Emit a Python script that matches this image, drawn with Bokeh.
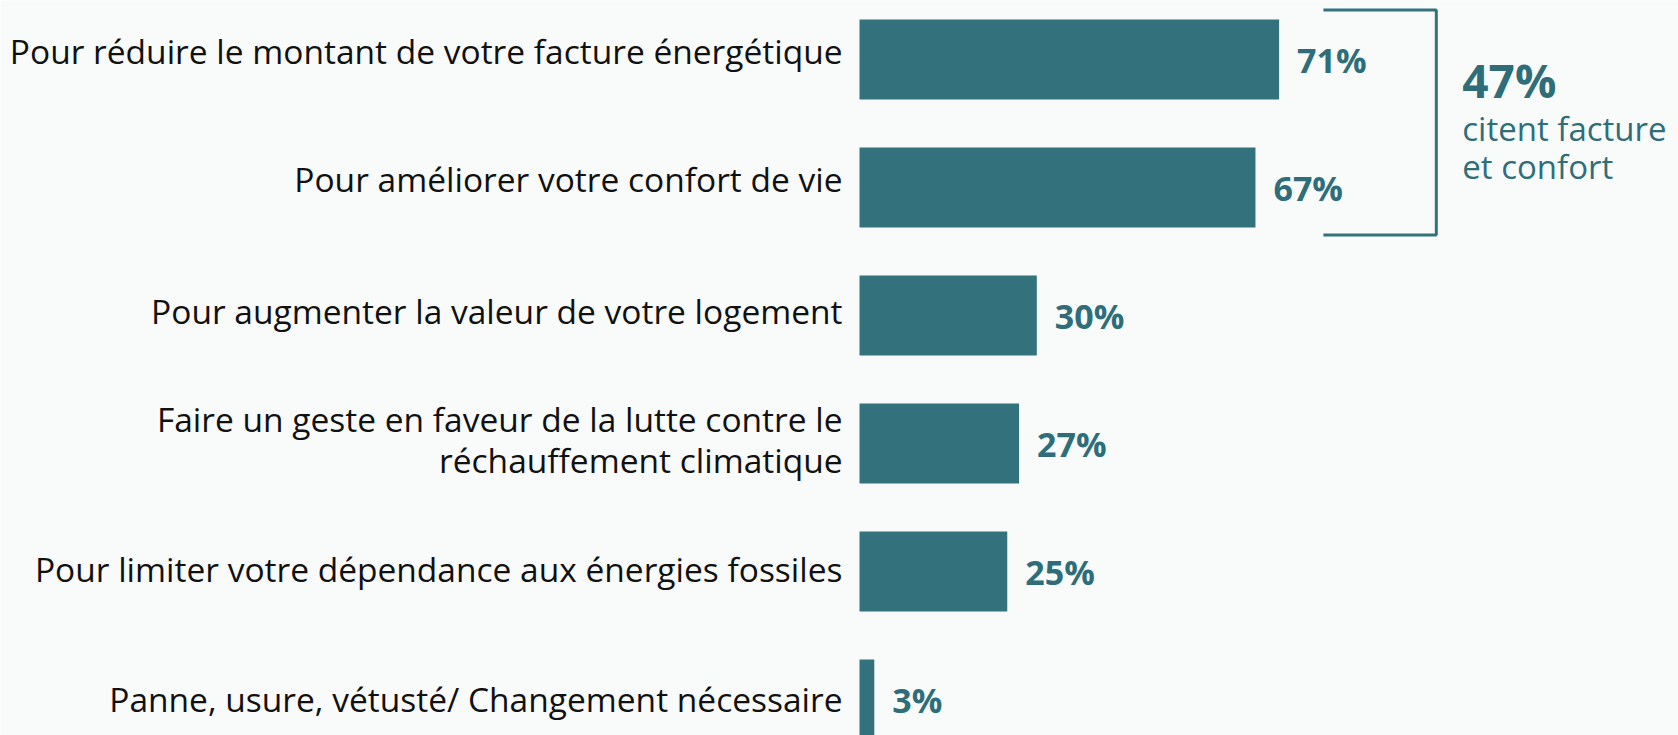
from bokeh.plotting import figure
from bokeh.models import ColumnDataSource, Range1d
from bokeh.core.properties import value
from bokeh.embed import file_html
from bokeh.resources import INLINE

categories = [
    "Pour réduire le montant de votre facture énergétique",
    "Pour améliorer votre confort de vie",
    "Pour augmenter la valeur de votre logement",
    "Faire un geste en faveur de la lutte contre le\nréchauffement climatique",
    "Pour limiter votre dépendance aux énergies fossiles",
    "Panne, usure, vétusté/ Changement nécessaire",
]
values = [71, 67, 30, 27, 25, 2.5]
value_labels = ["71%", "67%", "30%", "27%", "25%", "3%"]
combined_value = "47%"
combined_text = ["citent facture", "et confort"]
bracket_rows = [0, 1]

# styling: small vertical nudges (px) of the category labels, as in the original
label_nudge = [-9, -9, -5, -4, -3, -1]

BAR = "#33727d"
TXT = "#2f6e79"
BG = "#f9fbfb"
FONT = "Open Sans"
LINE_PX = 41

idx = list(range(len(categories)))
src = ColumnDataSource(dict(y=idx, v=values, lab=value_labels))

# split multi-line category labels into separate lines
ly, lt, loff = [], [], []
for i, c in enumerate(categories):
    parts = c.split("\n")
    n = len(parts)
    for k, t in enumerate(parts):
        ly.append(i)
        lt.append(t)
        loff.append((k - (n - 1) / 2) * LINE_PX + label_nudge[i])
cat_src = ColumnDataSource(dict(y=ly, t=lt, off=loff))

p = figure(width=1678, height=735, output_backend="svg", toolbar_location=None,
           x_range=Range1d(-145.35, 138.58), y_range=Range1d(5.281, -0.461),
           min_border=0, min_border_left=0, min_border_right=0,
           min_border_top=0, min_border_bottom=0)
p.axis.visible = False
p.grid.visible = False
p.outline_line_color = None
p.background_fill_color = BG
p.border_fill_color = BG

p.hbar(y="y", left=0, right="v", height=0.625, source=src, color=BAR, line_color=None)

p.text(x=0, y="y", text="t", y_offset="off", source=cat_src, x_offset=-17,
       text_align="right", text_baseline="middle", text_font=value(FONT),
       text_font_size="33.5px", text_color="#111111")

p.text(x="v", y="y", text="lab", source=src, x_offset=18, y_offset=0.5,
       text_align="left", text_baseline="middle", text_font=value(FONT),
       text_font_size="34px", text_font_style="bold", text_color=TXT)

# bracket around the first two rows
top = min(bracket_rows) - 0.386
bot = max(bracket_rows) + 0.37
bx0 = max(values[i] for i in bracket_rows) + 7.5
bx1 = bx0 + 19.1
p.line(x=[bx0, bx1, bx1, bx0], y=[top, top, bot, bot], line_color=BAR, line_width=3)

p.text(x=[bx1 + 4.4], y=[top + 0.545], text=[combined_value], text_align="left",
       text_baseline="middle", text_font=value(FONT), text_font_size="46px",
       text_font_style="bold", text_color=TXT)
p.text(x=[bx1 + 4.4] * len(combined_text),
       y=[top + 0.925 + k * 0.3 for k in range(len(combined_text))],
       text=combined_text, text_align="left", text_baseline="middle",
       text_font=value(FONT), text_font_size="33px", text_color=TXT)

open("out.html", "w").write(file_html(p, INLINE))
